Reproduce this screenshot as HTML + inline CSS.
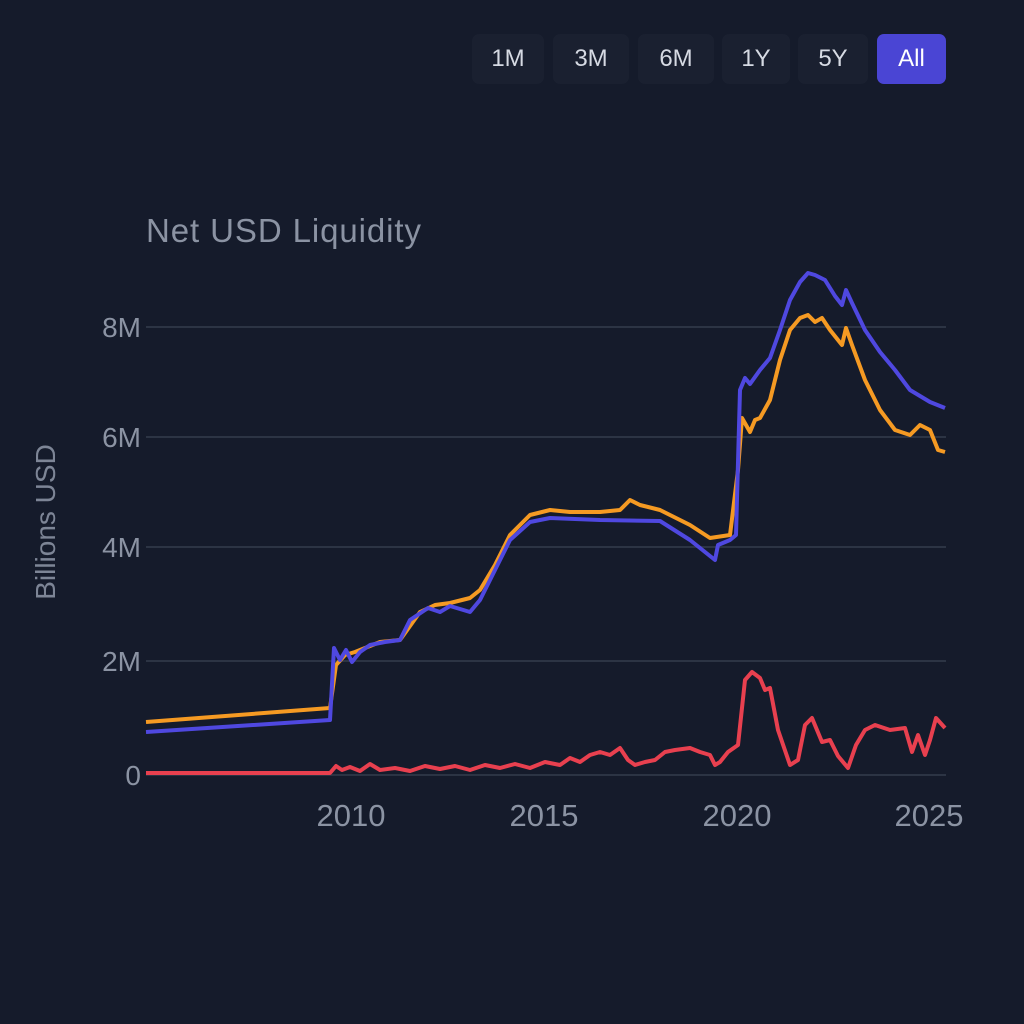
<!DOCTYPE html>
<html><head><meta charset="utf-8"><style>
html,body{margin:0;padding:0;background:#151b2b;}
body{width:1024px;height:1024px;position:relative;overflow:hidden;font-family:"Liberation Sans",sans-serif;}
.btn{position:absolute;top:34px;height:50px;border-radius:7px;background:#1a2030;color:#d6dae3;font-size:24px;line-height:50px;text-align:center;}
</style></head><body>
<div class="btn" style="left:472px;width:72px">1M</div>
<div class="btn" style="left:553px;width:76px">3M</div>
<div class="btn" style="left:638px;width:76px">6M</div>
<div class="btn" style="left:722px;width:68px">1Y</div>
<div class="btn" style="left:798px;width:70px">5Y</div>
<div class="btn" style="left:877px;width:69px;background:#4a45d4;color:#fff">All</div>
<svg width="1024" height="1024" style="position:absolute;left:0;top:0">
<text x="146" y="242" fill="#8b93a3" font-size="33" textLength="275" font-family="Liberation Sans, sans-serif">Net USD Liquidity</text>
<text transform="translate(55,522) rotate(-90)" text-anchor="middle" fill="#7d8596" font-size="28" font-family="Liberation Sans, sans-serif">Billions USD</text>
<g stroke="#2c3444" stroke-width="2">
<line x1="146" y1="327" x2="946" y2="327"/><line x1="146" y1="437" x2="946" y2="437"/>
<line x1="146" y1="547" x2="946" y2="547"/><line x1="146" y1="661" x2="946" y2="661"/>
<line x1="146" y1="775" x2="946" y2="775"/></g>
<g fill="#8b93a3" font-size="28" font-family="Liberation Sans, sans-serif" text-anchor="end">
<text x="141" y="337">8M</text><text x="141" y="447">6M</text><text x="141" y="557">4M</text><text x="141" y="671">2M</text><text x="141" y="785">0</text></g>
<g fill="#8b93a3" font-size="31" font-family="Liberation Sans, sans-serif" text-anchor="middle">
<text x="351" y="826">2010</text><text x="544" y="826">2015</text><text x="737" y="826">2020</text><text x="929" y="826">2025</text></g>
<g fill="none" stroke-width="4" stroke-linejoin="round">
<polyline stroke="#f59a23" points="146,722 330,708 336,665 345,655 355,652 365,648 380,642 400,640 420,612 435,605 450,603 470,598 480,590 495,565 510,535 530,515 550,510 570,512 600,512 620,510 630,500 640,505 660,510 690,525 710,538 730,535 738,470 742,418 746,425 750,432 755,420 760,418 770,400 780,360 790,330 800,318 808,315 815,322 822,318 830,330 842,345 846,328 852,345 865,380 880,410 895,430 910,435 920,425 930,430 938,450 945,452"/>
<polyline stroke="#4f48e0" points="146,732 330,720 334,648 340,660 346,650 352,662 360,652 370,645 385,642 400,640 410,620 428,608 440,612 450,606 470,612 480,600 495,570 510,540 530,522 550,518 600,520 660,521 690,540 715,560 718,545 730,540 736,535 740,390 745,378 750,384 760,370 770,358 780,330 790,300 800,282 808,273 815,275 825,280 835,296 842,305 846,290 852,303 865,330 880,352 895,370 910,390 930,402 945,408"/>
<polyline stroke="#e8404f" points="146,773 330,773 336,766 342,770 350,767 360,771 370,764 380,770 395,768 410,771 425,766 440,769 455,766 470,770 485,765 500,768 515,764 530,768 545,762 560,765 570,758 580,762 590,755 600,752 610,755 620,748 628,760 635,765 645,762 655,760 665,752 675,750 690,748 700,752 710,755 715,765 720,762 728,752 738,745 745,680 752,672 760,678 765,690 770,688 778,730 790,765 798,760 805,725 812,718 822,742 830,740 838,756 848,768 856,745 865,730 875,725 890,730 905,728 912,752 918,735 925,755 930,740 936,718 945,728"/>
</g>
</svg>
</body></html>
